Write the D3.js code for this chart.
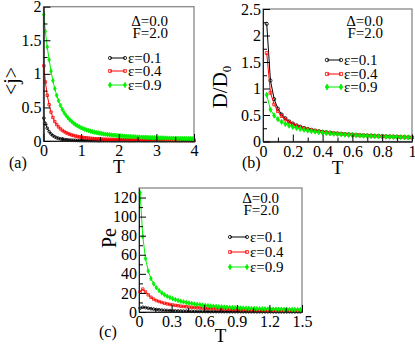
<!DOCTYPE html>
<html><head><meta charset="utf-8">
<script src="https://cdn.jsdelivr.net/npm/d3@7"></script>
<style>
html,body{margin:0;padding:0;background:#fff;}
svg text{font-family:"Liberation Serif","DejaVu Serif",serif;fill:#000;}
</style></head>
<body><svg id="c" width="415" height="346"></svg>
<script>
// ---------- DATA ----------
const seriesNames = ["ε=0.1", "ε=0.4", "ε=0.9"];
const headerLines = ["Δ=0.0", "F=2.0"];

// Panel (a): <j> vs T
const Ta = [0.01,0.05,0.10,0.15,0.20,0.25,0.30,0.35,0.40,0.45,0.50,0.55,0.60,0.65,0.70,0.75,0.80,0.85,0.90,0.95,
 1.00,1.05,1.10,1.15,1.20,1.25,1.30,1.35,1.40,1.45,1.50,1.55,1.60,1.65,1.70,1.75,1.80,1.85,1.90,1.95,
 2.00,2.05,2.10,2.15,2.20,2.25,2.30,2.35,2.40,2.45,2.50,2.55,2.60,2.65,2.70,2.75,2.80,2.85,2.90,2.95,
 3.00,3.05,3.10,3.15,3.20,3.25,3.30,3.35,3.40,3.45,3.50,3.55,3.60,3.65,3.70,3.75,3.80,3.85,3.90,3.95,4.00];
const ja_e01 = [0.34,0.26,0.19,0.14,0.105,0.08,0.062,0.049,0.039,0.032,0.026,0.021,0.018,0.015,0.013,0.011,0.010,0.009,0.008,0.007,
 0.006,0.006,0.005,0.005,0.005,0.004,0.004,0.004,0.004,0.003,0.003,0.003,0.003,0.003,0.003,0.003,0.002,0.002,0.002,0.002,
 0.002,0.002,0.002,0.002,0.002,0.002,0.002,0.002,0.002,0.002,0.002,0.002,0.002,0.002,0.002,0.002,0.002,0.002,0.002,0.002,
 0.002,0.002,0.002,0.002,0.002,0.002,0.002,0.002,0.002,0.002,0.002,0.002,0.002,0.002,0.002,0.002,0.002,0.002,0.002,0.002,0.002];
const ja_e04 = [1.12,0.88,0.68,0.54,0.43,0.35,0.29,0.245,0.21,0.18,0.158,0.139,0.123,0.11,0.099,0.089,0.081,0.074,0.068,0.062,
 0.057,0.053,0.049,0.046,0.043,0.040,0.038,0.035,0.033,0.032,0.030,0.028,0.027,0.026,0.025,0.024,0.023,0.022,0.021,0.020,
 0.020,0.019,0.019,0.018,0.018,0.017,0.017,0.016,0.016,0.016,0.015,0.015,0.015,0.014,0.014,0.014,0.013,0.013,0.013,0.012,
 0.012,0.012,0.012,0.011,0.011,0.011,0.010,0.011,0.010,0.010,0.010,0.009,0.010,0.009,0.009,0.009,0.008,0.009,0.008,0.008,0.008];
const ja_e09 = [1.88,1.63,1.40,1.21,1.04,0.90,0.78,0.68,0.60,0.53,0.47,0.42,0.38,0.345,0.315,0.29,0.265,0.245,0.228,0.212,
 0.198,0.185,0.174,0.164,0.155,0.147,0.139,0.132,0.126,0.120,0.115,0.110,0.105,0.100,0.097,0.093,0.090,0.087,0.084,0.081,
 0.078,0.076,0.074,0.071,0.069,0.067,0.066,0.064,0.062,0.061,0.059,0.058,0.056,0.055,0.054,0.053,0.051,0.050,0.049,0.048,
 0.047,0.046,0.045,0.045,0.044,0.043,0.042,0.042,0.041,0.040,0.039,0.039,0.038,0.037,0.037,0.036,0.036,0.035,0.035,0.034,0.034];

// Panel (b): D/D0 vs T
const Tb = [0.025,0.05,0.075,0.10,0.125,0.15,0.175,0.20,0.225,0.25,0.275,0.30,0.325,0.35,0.375,0.40,0.425,0.45,0.475,0.50,
 0.525,0.55,0.575,0.60,0.625,0.65,0.675,0.70,0.725,0.75,0.775,0.80,0.825,0.85,0.875,0.90,0.925,0.95,0.975,1.00];
const Db_e01 = [2.22,1.15,0.80,0.62,0.51,0.44,0.38,0.34,0.305,0.28,0.255,0.237,0.22,0.207,0.195,0.185,0.175,0.167,0.159,0.152,
 0.146,0.140,0.135,0.130,0.125,0.121,0.117,0.113,0.110,0.106,0.103,0.100,0.097,0.094,0.091,0.088,0.085,0.082,0.080,0.078];
const Db_e04 = [1.67,0.92,0.70,0.57,0.48,0.415,0.365,0.325,0.295,0.27,0.248,0.23,0.214,0.20,0.19,0.18,0.171,0.163,0.155,0.148,
 0.142,0.137,0.132,0.127,0.122,0.118,0.114,0.111,0.107,0.104,0.101,0.098,0.095,0.092,0.089,0.087,0.084,0.081,0.079,0.077];
const Db_e09 = [0.88,0.60,0.49,0.42,0.37,0.33,0.30,0.275,0.255,0.237,0.222,0.208,0.196,0.186,0.177,0.168,0.160,0.153,0.146,0.140,
 0.135,0.130,0.125,0.121,0.117,0.113,0.110,0.106,0.103,0.100,0.097,0.094,0.092,0.089,0.087,0.085,0.082,0.080,0.078,0.076];

// Panel (c): Pe vs T
const Tc = [0.010,0.035,0.060,0.085,0.110,0.135,0.160,0.185,0.210,0.235,0.260,0.285,0.310,0.335,0.360,0.385,0.410,0.435,0.460,0.485,
 0.510,0.535,0.560,0.585,0.610,0.635,0.660,0.685,0.710,0.735,0.760,0.785,0.810,0.835,0.860,0.885,0.910,0.935,0.960,0.985,
 1.010,1.035,1.060,1.085,1.110,1.135,1.160,1.185,1.210,1.235,1.260,1.285,1.310,1.335,1.360,1.385,1.410,1.435,1.460,1.485];
const Pe_e01 = [4.0,5.0,4.6,4.0,3.5,3.0,2.6,2.3,2.0,1.8,1.6,1.45,1.3,1.2,1.1,1.0,0.92,0.85,0.78,0.72,
 0.68,0.64,0.60,0.57,0.54,0.51,0.48,0.46,0.44,0.42,0.40,0.38,0.37,0.35,0.34,0.33,0.32,0.31,0.30,0.29,
 0.28,0.27,0.27,0.26,0.25,0.25,0.24,0.24,0.23,0.23,0.22,0.22,0.21,0.21,0.21,0.20,0.20,0.20,0.19,0.19];
const Pe_e04 = [21,24,21,18,15.5,13.5,12,11,10,9.2,8.5,7.9,7.4,6.9,6.5,6.1,5.8,5.5,5.2,4.95,
 4.7,4.5,4.3,4.1,3.95,3.8,3.65,3.5,3.4,3.25,3.15,3.05,2.95,2.85,2.75,2.67,2.6,2.52,2.45,2.38,
 2.32,2.26,2.2,2.15,2.1,2.05,2.0,1.95,1.9,1.86,1.82,1.78,1.74,1.7,1.66,1.63,1.6,1.56,1.53,1.5];
const Pe_e09 = [125,79,56,43,35,29.5,25.5,22.5,20,18,16.5,15.2,14,13,12.1,11.3,10.6,10,9.4,8.9,
 8.4,8.0,7.6,7.25,6.9,6.6,6.3,6.05,5.8,5.55,5.35,5.15,4.95,4.8,4.62,4.47,4.33,4.2,4.07,3.95,
 3.83,3.72,3.62,3.52,3.43,3.34,3.26,3.18,3.1,3.03,2.96,2.9,2.84,2.78,2.72,2.67,2.62,2.57,2.52,2.48];

// tick values
const a_xTicks = [0,1,2,3,4], a_xMinor = [0.5,1.5,2.5,3.5];
const a_yTicks = [0,0.5,1,1.5,2], a_yMinor = [0.25,0.75,1.25,1.75];
const b_xTicks = [0,0.2,0.4,0.6,0.8,1], b_xMinor = [0.1,0.3,0.5,0.7,0.9];
const b_yTicks = [0,0.5,1,1.5,2,2.5], b_yMinor = [0.25,0.75,1.25,1.75,2.25];
const c_xTicks = [0,0.3,0.6,0.9,1.2,1.5], c_xMinor = [0.15,0.45,0.75,1.05,1.35];
const c_yTicks = [0,20,40,60,80,100,120], c_yMinor = [10,30,50,70,90,110];

// ---------- DRAW ----------
const svg = d3.select("#c");
const colors = ["#000000", "#ff0000", "#00f000"];
const symbols = [d3.symbolCircle, d3.symbolSquare, d3.symbolDiamond];

function marker(g, i, x, y, size) {
  g.append("path")
    .attr("d", d3.symbol().type(symbols[i]).size(size)())
    .attr("transform", `translate(${x},${y})`)
    .attr("fill", i === 2 ? colors[i] : "none")
    .attr("stroke", colors[i]).attr("stroke-width", 0.8);
}

function panel(p) {
  const x = d3.scaleLinear().domain(p.xd).range(p.xr);
  const y = d3.scaleLinear().domain(p.yd).range(p.yr);
  const g = svg.append("g");
  g.append("rect").attr("x", p.xr[0]).attr("y", p.yr[1])
    .attr("width", p.xr[1]-p.xr[0]).attr("height", p.yr[0]-p.yr[1])
    .attr("fill", "none").attr("stroke", "#888").attr("stroke-width", 1.3);
  p.series.forEach((vals, i) => {
    const pts = p.T.map((t, k) => [x(t), y(vals[k])]);
    g.append("path").attr("d", d3.line()(pts)).attr("fill", "none")
      .attr("stroke", colors[i]).attr("stroke-width", 1);
    const mg = g.append("g");
    pts.forEach(pt => marker(mg, i, pt[0], pt[1], p.msize));
  });
  const fs = "16px";
  g.append("g").attr("transform", `translate(0,${p.yr[0]})`)
    .call(d3.axisBottom(x).tickValues(p.xt).tickSizeInner(-7).tickSizeOuter(0).tickPadding(4).tickFormat(d => String(d)));
  g.append("g").attr("transform", `translate(0,${p.yr[0]})`)
    .call(d3.axisBottom(x).tickValues(p.xm).tickSizeInner(-4).tickSizeOuter(0).tickFormat(""));
  g.append("g").attr("transform", `translate(${p.xr[0]},0)`)
    .call(d3.axisLeft(y).tickValues(p.yt).tickSizeInner(-7).tickSizeOuter(0).tickPadding(2).tickFormat(d => String(d)));
  g.append("g").attr("transform", `translate(${p.xr[0]},0)`)
    .call(d3.axisLeft(y).tickValues(p.ym).tickSizeInner(-4).tickSizeOuter(0).tickFormat(""));
  g.selectAll(".domain").attr("stroke", "#222");
  g.selectAll(".tick line").attr("stroke", "#000");
  g.selectAll(".tick text").style("font-size", fs).style("font-family", '"Liberation Serif",serif');
  g.append("text").attr("x", (p.xr[0]+p.xr[1])/2).attr("y", p.tLabelY)
    .attr("text-anchor", "middle").style("font-size", "19px").text("T");
  const yl = g.append("text").attr("transform", `translate(${p.yl[0]},${p.yl[1]}) rotate(-90)`)
    .attr("text-anchor", "middle").style("font-size", p.ylSize);
  if (p.ylabelSub) {
    yl.append("tspan").text(p.ylabel);
    yl.append("tspan").attr("dy", "0.3em").style("font-size", "13px").text(p.ylabelSub);
  } else yl.text(p.ylabel);
  g.append("text").attr("x", p.tag[0]).attr("y", p.tag[1]).style("font-size", "16px").text(p.tagText);
  headerLines.forEach((h, k) => {
    g.append("text").attr("x", p.hx).attr("y", p.hy[k]).attr("text-anchor", "end")
      .style("font-size", "15px").text(h);
  });
  seriesNames.forEach((s, i) => {
    const ly = p.ly[i];
    g.append("line").attr("x1", p.lx[0]).attr("x2", p.lx[1]).attr("y1", ly-5).attr("y2", ly-5)
      .attr("stroke", colors[i]).attr("stroke-width", 1);
    marker(g, i, p.lx[0], ly-5, p.msize+2);
    marker(g, i, p.lx[1], ly-5, p.msize+2);
    g.append("text").attr("x", p.lx[1]+3).attr("y", ly).style("font-size", "15px").text(s);
  });
}

panel({xd:[0,4], xr:[43.5,194], yd:[0,2], yr:[141,6.7], T:Ta, series:[ja_e01, ja_e04, ja_e09], msize:6,
  xt:a_xTicks, xm:a_xMinor, yt:a_yTicks, ym:a_yMinor, tLabelY:173, yl:[18,81], ylabel:"<j>", ylSize:"20px",
  tag:[9,168], tagText:"(a)", hx:168, hy:[26,38], lx:[110,125], ly:[63,76,90]});

panel({xd:[0,1], xr:[263,412], yd:[0,2.5], yr:[141.5,9], T:Tb, series:[Db_e01, Db_e04, Db_e09], msize:8,
  xt:b_xTicks, xm:b_xMinor, yt:b_yTicks, ym:b_yMinor, tLabelY:174, yl:[227,87], ylabel:"D/D", ylabelSub:"0", ylSize:"21px",
  tag:[242,168], tagText:"(b)", hx:383, hy:[26,38], lx:[327,341], ly:[65,79,92]});

panel({xd:[0,1.5], xr:[139,302], yd:[0,130], yr:[312,188], T:Tc, series:[Pe_e01, Pe_e04, Pe_e09], msize:6,
  xt:c_xTicks, xm:c_xMinor, yt:c_yTicks, ym:c_yMinor, tLabelY:342, yl:[116,238], ylabel:"Pe", ylSize:"20px",
  tag:[99,337], tagText:"(c)", hx:279, hy:[203,215], lx:[230,247], ly:[242,257,272]});
</script></body></html>
